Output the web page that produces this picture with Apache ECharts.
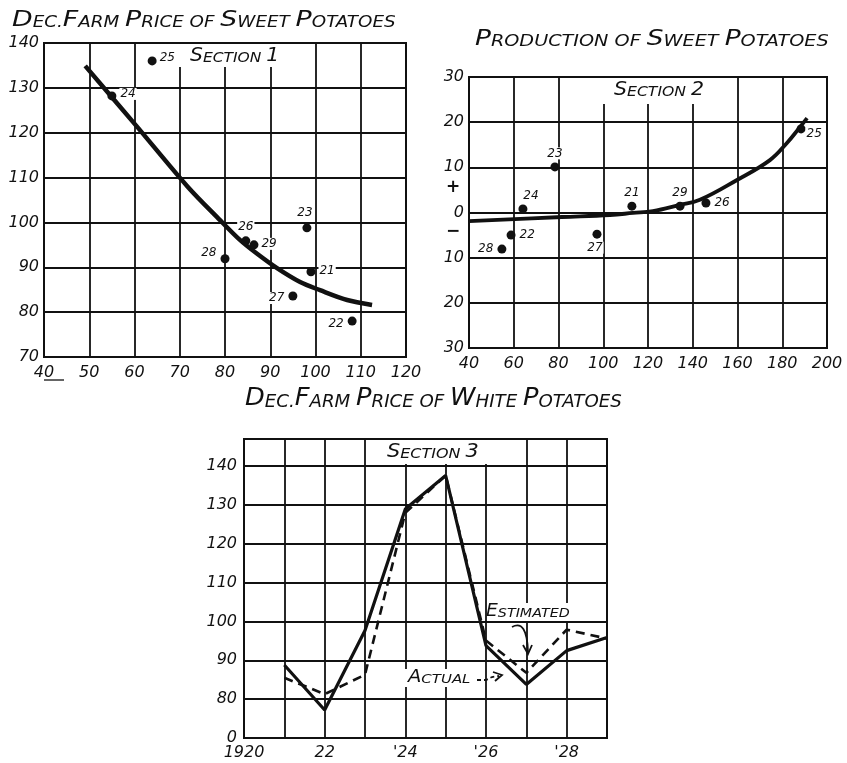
<!DOCTYPE html>
<html><head><meta charset="utf-8">
<script src="https://cdn.jsdelivr.net/npm/echarts@6/dist/echarts.min.js"></script>
<style>html,body{margin:0;padding:0;background:#fff}#c{width:847px;height:763px}</style>
</head><body><div id="c"></div>
<script>
// ---------- Section 1: sweet potato price vs white potato price ----------
const s1Years = ['25', '24', '26', '29', '28', '23', '21', '27', '22'];
const s1X = [63.9, 55.0, 84.6, 86.4, 80.0, 98.1, 99.0, 95.0, 108.1];
const s1Y = [136.0, 128.2, 95.9, 95.0, 91.9, 98.8, 89.0, 83.6, 78.0];
const s1CurveX = [49.1, 60.6, 71.8, 78.9, 83.3, 87.1, 91.5, 96.6, 101.0, 107.0, 112.5];
const s1CurveY = [134.9, 121.3, 107.9, 100.5, 96.1, 93.0, 89.8, 86.7, 84.9, 82.7, 81.6];

// ---------- Section 2: production of sweet potatoes ----------
const s2Years = ['23', '24', '22', '28', '27', '21', '29', '26', '25'];
const s2X = [78.4, 64.1, 58.8, 54.7, 97.2, 112.8, 134.3, 145.9, 188.4];
const s2Y = [10.1, 0.8, -5.0, -8.1, -4.8, 1.4, 1.4, 2.1, 18.5];
const s2CurveX = [40, 81.6, 103.0, 113.3, 122.2, 134.3, 143.2, 159.8, 174.5, 182.1, 187.9, 191.1];
const s2CurveY = [-1.9, -1.0, -0.55, -0.1, 0.3, 1.7, 2.8, 7.2, 11.6, 15.4, 18.9, 20.9];

// ---------- Section 3: white potato price, actual vs estimated ----------
const s3Years = [1921, 1922, 1923, 1924, 1925, 1926, 1927, 1928, 1929];
const s3Actual = [88.8, 77.2, 97.7, 129, 137.6, 93.8, 83.8, 92.5, 95.9];
const s3Estimated = [85.5, 81.3, 86.3, 128, 137.6, 95.1, 86.8, 97.9, 95.6];
const s3XTickLabels = ['1920', '', '22', '', "'24", '', "'26", '', "'28", ''];
const s3YBreakLabel = '0';

// label placement (style only)
const s1LabelPos = {'25':['right',[-1,-3]], '24':['right',[0,-2]], '26':['top',[0,0]], '29':['right',[-1,-1]],
  '28':['left',[0,-6]], '23':['top',[-2,-1]], '21':['right',[0,-1]], '27':['left',[0,2]], '22':['left',[0,3]]};
const s2LabelPos = {'23':['top',[0,0]], '24':['top',[8,0]], '22':['right',[0,0]], '28':['left',[0,0]],
  '27':['bottom',[-2,0]], '21':['top',[0,0]], '29':['top',[0,0]], '26':['right',[0,0]], '25':['right',[-3,5]]};

const INK = '#111111';
const FONT = 'DejaVu Sans';
const zip = (a, b) => a.map((v, i) => [v, b[i]]);

function lab(size, extra) {
  return Object.assign({color: INK, fontSize: size, fontStyle: 'italic', fontWeight: 'normal', fontFamily: FONT}, extra || {});
}
function capsRich(big, small) {
  return {
    b: {fontSize: big, fontFamily: FONT, fontStyle: 'italic', fontWeight: 'normal', fill: INK, verticalAlign: 'bottom'},
    s: {fontSize: small, fontFamily: FONT, fontStyle: 'italic', fontWeight: 'normal', fill: INK, verticalAlign: 'bottom'}
  };
}
function capsText(x, y, text, big, small, sx) {
  return {type: 'text', z: 60, x: x, y: y, scaleX: sx || 1, style: {text: text, rich: capsRich(big, small),
    fontSize: small, fontFamily: FONT, fontStyle: 'italic', fill: INK, align: 'left', verticalAlign: 'top'}};
}

function scatterData(xs, ys, names, posMap) {
  return xs.map((x, i) => ({
    value: [x, ys[i]], name: names[i],
    label: {position: posMap[names[i]][0], offset: posMap[names[i]][1]}
  }));
}
const pointLabel = {show: true, formatter: p => p.name, color: INK, fontSize: 12, fontStyle: 'italic',
  fontFamily: FONT, backgroundColor: '#fff', padding: [0, 1], distance: 3};

const split = {show: true, lineStyle: {color: INK, width: 1.8}};
const noLine = {show: false};

const chart = echarts.init(document.getElementById('c'));
chart.setOption({
  animation: false,
  backgroundColor: '#fff',
  grid: [
    {left: 44, top: 43, width: 362, height: 314, show: true, borderColor: INK, borderWidth: 2, outerBoundsMode: 'none'},
    {left: 469, top: 77, width: 358, height: 271, show: true, borderColor: INK, borderWidth: 2, outerBoundsMode: 'none'},
    {left: 244, top: 439, width: 363, height: 299, show: true, borderColor: INK, borderWidth: 2, outerBoundsMode: 'none'}
  ],
  xAxis: [
    {gridIndex: 0, type: 'value', min: 40, max: 120, interval: 10, axisLine: noLine, axisTick: noLine,
      splitLine: split, axisLabel: lab(16, {margin: 8})},
    {gridIndex: 1, type: 'value', min: 40, max: 200, interval: 20, axisLine: noLine, axisTick: noLine,
      splitLine: split, axisLabel: lab(16, {margin: 8})},
    {gridIndex: 2, type: 'value', min: 1920, max: 1929, interval: 1, axisLine: noLine, axisTick: noLine,
      splitLine: split, axisLabel: lab(16, {margin: 7, formatter: v => s3XTickLabels[Math.round(v - 1920)] || ''})}
  ],
  yAxis: [
    {gridIndex: 0, type: 'value', min: 70, max: 140, interval: 10, axisLine: noLine, axisTick: noLine,
      splitLine: split, axisLabel: lab(16, {margin: 5})},
    {gridIndex: 1, type: 'value', min: -30, max: 30, interval: 10, axisLine: noLine, axisTick: noLine,
      splitLine: split, axisLabel: lab(16, {margin: 5, formatter: v => String(Math.abs(v))})},
    {gridIndex: 2, type: 'value', min: 70, max: 147, interval: 10, axisLine: noLine, axisTick: noLine,
      splitLine: split, axisLabel: lab(16, {margin: 7,
        formatter: v => v === 70 ? s3YBreakLabel : (v % 10 === 0 ? String(v) : '')})}
  ],
  series: [
    {type: 'line', xAxisIndex: 0, yAxisIndex: 0, data: zip(s1CurveX, s1CurveY), smooth: 0.3,
      symbol: 'none', lineStyle: {color: INK, width: 4.5}, z: 3},
    {type: 'scatter', xAxisIndex: 0, yAxisIndex: 0, data: scatterData(s1X, s1Y, s1Years, s1LabelPos),
      symbolSize: 9, itemStyle: {color: INK, opacity: 1}, label: pointLabel, z: 4},
    {type: 'line', xAxisIndex: 1, yAxisIndex: 1, data: zip(s2CurveX, s2CurveY), smooth: 0.4,
      symbol: 'none', lineStyle: {color: INK, width: 3.8}, z: 3},
    {type: 'scatter', xAxisIndex: 1, yAxisIndex: 1, data: scatterData(s2X, s2Y, s2Years, s2LabelPos),
      symbolSize: 9, itemStyle: {color: INK, opacity: 1}, label: pointLabel, z: 4},
    {type: 'line', name: 'Estimated', xAxisIndex: 2, yAxisIndex: 2, data: zip(s3Years, s3Estimated),
      symbol: 'none', lineStyle: {color: INK, width: 2.6, type: [9, 6]}, z: 3},
    {type: 'line', name: 'Actual', xAxisIndex: 2, yAxisIndex: 2, data: zip(s3Years, s3Actual),
      symbol: 'none', lineStyle: {color: INK, width: 3.2}, z: 4}
  ],
  graphic: [
    // chart titles (hand-lettered small caps)
    capsText(12, 9, '{b|D}{s|EC.}{b|F}{s|ARM} {b|P}{s|RICE} {s|OF} {b|S}{s|WEET} {b|P}{s|OTATOES}', 22, 15, 1.22),
    capsText(475, 28, '{b|P}{s|RODUCTION} {s|OF} {b|S}{s|WEET} {b|P}{s|OTATOES}', 22, 16, 1.2),
    capsText(245, 387, '{b|D}{s|EC.}{b|F}{s|ARM} {b|P}{s|RICE} {s|OF} {b|W}{s|HITE} {b|P}{s|OTATOES}', 24, 17, 1.07),
    // section labels with paper-white backing over the grid
    {type: 'rect', z: 50, shape: {x: 176, y: 44, width: 108, height: 23}, style: {fill: '#fff'}},
    capsText(190, 47, '{b|S}{s|ECTION} {b|1}', 19, 14.5, 1.07),
    {type: 'rect', z: 50, shape: {x: 598, y: 78, width: 114, height: 26}, style: {fill: '#fff'}},
    capsText(614, 81, '{b|S}{s|ECTION} {b|2}', 19, 14.5, 1.08),
    {type: 'rect', z: 50, shape: {x: 383, y: 440, width: 104, height: 24}, style: {fill: '#fff'}},
    capsText(387, 443, '{b|S}{s|ECTION} {b|3}', 19, 14.5, 1.1),
    // + / - signs on section 2 axis
    {type: 'text', z: 60, x: 453, y: 188, style: {text: '+', fontSize: 17, fontWeight: 'bold', fontFamily: FONT,
      fill: INK, align: 'center', verticalAlign: 'middle'}},
    {type: 'text', z: 60, x: 453, y: 232, style: {text: '−', fontSize: 17, fontWeight: 'bold', fontFamily: FONT,
      fill: INK, align: 'center', verticalAlign: 'middle'}},
    // underline under "40"
    {type: 'line', z: 60, shape: {x1: 44, y1: 380, x2: 64, y2: 380}, style: {stroke: INK, lineWidth: 1.3}},
    // Estimated annotation
    {type: 'rect', z: 50, shape: {x: 488, y: 603, width: 90, height: 18}, style: {fill: '#fff'}},
    capsText(486, 603, '{b|E}{s|STIMATED}', 17, 13, 1.1),
    {type: 'bezierCurve', z: 60, shape: {x1: 512, y1: 627, cpx1: 527, cpy1: 619, x2: 528, y2: 652},
      style: {stroke: INK, lineWidth: 1.8, fill: null}},
    {type: 'polyline', z: 60, shape: {points: [[523, 645], [528, 654], [532, 645]]},
      style: {stroke: INK, lineWidth: 1.8, fill: null}},
    // Actual annotation
    {type: 'rect', z: 50, shape: {x: 405, y: 669, width: 70, height: 18}, style: {fill: '#fff'}},
    capsText(408, 669, '{b|A}{s|CTUAL}', 17, 13, 1.15),
    {type: 'polyline', z: 60, shape: {points: [[477, 680], [486, 680], [492, 677], [499, 676]]},
      style: {stroke: INK, lineWidth: 1.8, fill: null, lineDash: [4, 3]}},
    {type: 'polyline', z: 60, shape: {points: [[493, 672], [502, 675], [495, 681]]},
      style: {stroke: INK, lineWidth: 1.8, fill: null}}
  ]
});
</script>
</body></html>
